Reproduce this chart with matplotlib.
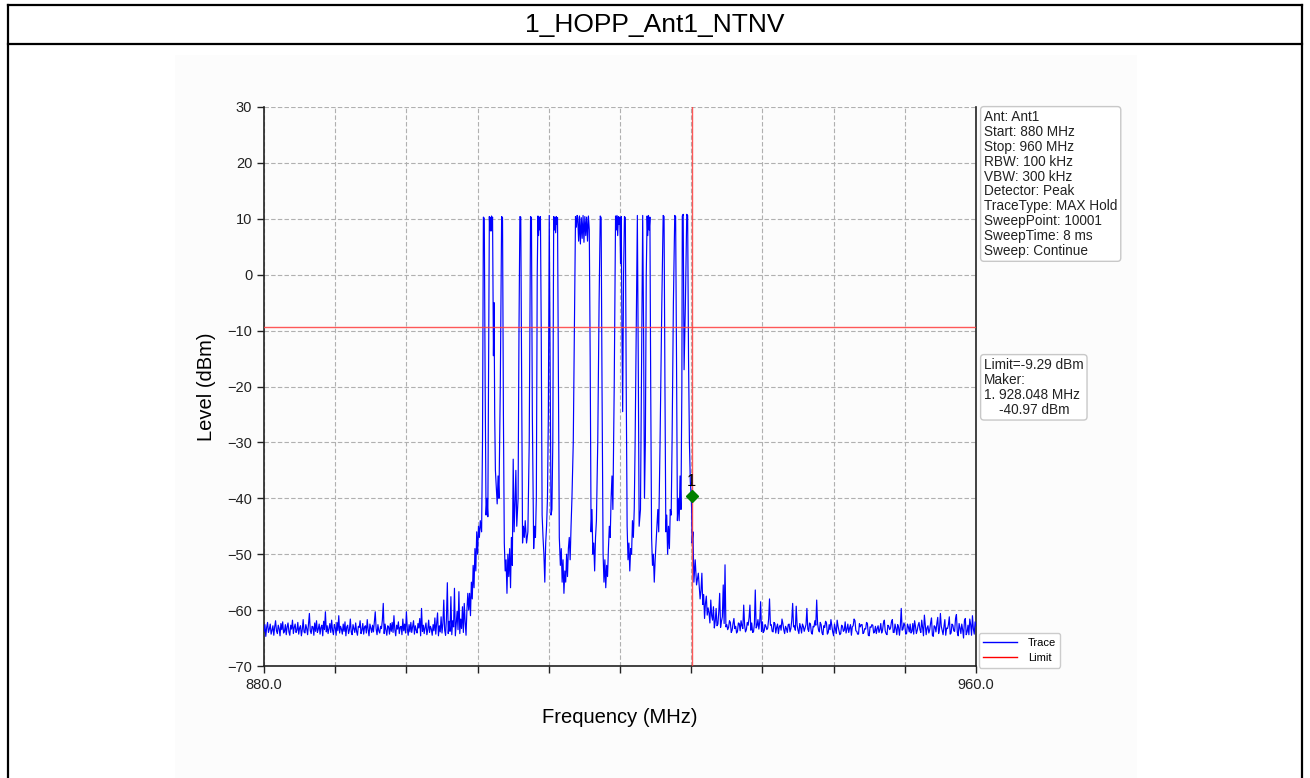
import numpy as np
import matplotlib
matplotlib.use("Agg")
import matplotlib.pyplot as plt
from matplotlib.lines import Line2D
from matplotlib.patches import Rectangle

plt.rcParams['font.family'] = ['Liberation Sans', 'DejaVu Sans']

# ---- data ----
title = "1_HOPP_Ant1_NTNV"
start_mhz, stop_mhz = 880.0, 960.0
tick_step_mhz = 8.0
level_min, level_max = -70, 30
limit_dbm = -9.29
marker_mhz = 928.048
marker_dbm = -40.97
marker_drawn_dbm = -39.6   # where the diamond sits on the picture

info_lines = ["Ant: Ant1", "Start: 880 MHz", "Stop: 960 MHz", "RBW: 100 kHz",
              "VBW: 300 kHz", "Detector: Peak", "TraceType: MAX Hold",
              "SweepPoint: 10001", "SweepTime: 8 ms", "Sweep: Continue"]

# noise floor below the hopping band, 880.0 .. 902.9 MHz every 0.1 MHz
left_start, left_step = 880.0, 0.1
left_levels = [
    -63.8, -62.6, -64.7, -63.1, -62.2, -64.0, -63.4, -62.5, -64.3, -63.6,
    -62.8, -64.5, -63.0, -61.9, -63.7, -64.2, -62.7, -63.3, -64.6, -62.4,
    -63.5, -62.1, -64.1, -63.8, -62.6, -64.4, -63.0, -62.3, -63.9, -64.5,
    -62.7, -63.4, -61.8, -64.2, -63.1, -62.5, -64.0, -63.6, -62.2, -64.3,
    -63.2, -62.8, -64.6, -63.5, -61.7, -63.9, -64.1, -62.6, -63.3, -64.4,
    -62.4, -60.6, -63.7, -64.2, -62.9, -63.0, -64.5, -62.3, -63.8, -61.9,
    -64.0, -63.4, -62.5, -64.3, -63.1, -62.7, -64.6, -62.0, -63.5, -60.3,
    -63.9, -62.8, -64.2, -63.3, -62.4, -64.0, -61.8, -63.6, -64.4, -62.6,
    -63.1, -64.5, -62.2, -63.7, -61.0, -64.1, -62.9, -63.4, -64.3, -62.5,
    -63.8, -62.1, -64.6, -63.0, -62.7, -64.2, -63.5, -61.6, -63.9, -64.4,
    -62.6, -63.3, -64.0, -62.3, -63.8, -64.5, -62.9, -63.1, -61.9, -64.2,
    -63.6, -62.4, -64.3, -63.0, -62.8, -64.1, -61.7, -63.5, -64.6, -62.5,
    -63.2, -64.0, -62.7, -63.9, -62.1, -60.3, -63.4, -64.4, -62.6, -63.7,
    -64.1, -62.9, -63.3, -61.8, -58.8, -64.2, -62.5, -63.6, -64.5, -62.8,
    -63.0, -64.3, -62.4, -63.8, -62.2, -64.0, -61.0, -63.5, -64.6, -62.7,
    -63.4, -62.1, -64.2, -63.1, -62.9, -64.4, -61.6, -63.7, -62.5, -64.1,
    -60.3, -63.3, -64.5, -62.6, -63.9, -62.2, -64.0, -63.0, -61.9, -64.3,
    -62.8, -63.6, -64.1, -62.4, -63.2, -61.5, -64.6, -59.7, -63.8, -62.7,
    -64.2, -63.1, -62.3, -64.4, -63.5, -61.8, -64.0, -62.9, -63.4, -64.5,
    -62.6, -63.7, -61.4, -64.3, -62.5, -60.5, -64.6, -62.8, -63.9, -61.2,
    -64.1, -62.4, -58.2, -63.6, -64.5, -61.5, -55.1, -64.2, -62.0, -63.8,
    -57.6, -64.4, -61.9, -63.0, -56.1, -64.6, -62.3, -60.2, -63.5, -56.7,
    -64.2, -61.6, -63.3, -59.4, -64.0, -58.8, -62.1, -64.5, -60.0, -57.0,
]

# hopping band 903 .. 928.8 MHz (freq, level)
hop_trace = [
    (903.0, -60), (903.1, -57), (903.2, -61), (903.3, -55), (903.4, -58),
    (903.5, -52), (903.6, -56), (903.7, -49), (903.8, -53), (903.9, -46),
    (904.0, -50), (904.1, -45), (904.2, -47), (904.3, -44), (904.45, -46),
    (904.55, -30), (904.65, 10.3), (904.75, 10.1), (904.85, -20), (904.95, -43),
    (905.05, -40), (905.15, -43.3), (905.25, -10), (905.32, 10.4), (905.38, 8),
    (905.44, 10.2), (905.5, 7.8), (905.56, 10.5), (905.62, 9), (905.68, 10.3),
    (905.78, -14.5), (905.85, -5), (905.92, -25), (906.0, -35), (906.1, -38),
    (906.2, -41), (906.3, -36), (906.4, -40), (906.55, -20), (906.7, 10.4),
    (906.8, 10.2), (906.9, -25), (907.0, -48), (907.1, -53), (907.2, -51),
    (907.3, -57), (907.4, -50), (907.5, -54), (907.6, -49), (907.7, -56),
    (907.8, -47), (907.9, -52), (908.0, -33), (908.1, -46), (908.2, -41),
    (908.3, -35), (908.4, -45), (908.55, -40), (908.65, -10), (908.75, 10.4),
    (908.85, 10.3), (908.95, -20), (909.05, -48), (909.15, -45), (909.25, -47),
    (909.35, -44), (909.5, -48), (909.65, -46), (909.8, -30), (909.95, 10.4),
    (910.05, 10.2), (910.15, -25), (910.3, -49), (910.4, -45), (910.5, -47),
    (910.6, -40), (910.7, 0), (910.78, 10.5), (910.85, 7), (910.92, 10.3),
    (911.0, 8), (911.06, 10.4), (911.15, -10), (911.25, -43), (911.35, -47),
    (911.45, -50), (911.55, -55), (911.65, -48), (911.75, -45), (911.85, -40),
    (911.95, -25), (912.05, 10.6), (912.15, -15), (912.25, -43), (912.35, -42),
    (912.45, -30), (912.55, 10.4), (912.62, 8), (912.7, 10.3), (912.77, 7.5),
    (912.85, 10.4), (912.92, 9), (912.98, 10.2), (913.08, -20), (913.18, -47),
    (913.3, -52), (913.4, -49), (913.5, -55), (913.6, -51), (913.7, -57),
    (913.8, -53), (913.9, -55), (914.0, -50), (914.1, -54), (914.2, -49),
    (914.3, -47), (914.4, -51), (914.5, -45), (914.6, -40), (914.75, -30),
    (914.9, -5), (915.0, 10.4), (915.1, 8.5), (915.18, 10.6), (915.25, 10.3),
    (915.35, 6), (915.45, 10.5), (915.55, 5.5), (915.65, 10.2), (915.75, 6.5),
    (915.85, 10.6), (915.95, 5.8), (916.05, 10.4), (916.15, 7), (916.25, 10.3),
    (916.35, 6), (916.45, 10.5), (916.55, 8), (916.65, -15), (916.75, -46),
    (916.85, -42), (916.95, -50), (917.05, -48), (917.15, -53), (917.25, -47),
    (917.35, -44), (917.5, -30), (917.65, -5), (917.78, 10.5), (917.88, 10.2),
    (917.98, -20), (918.1, -50), (918.2, -55), (918.3, -51), (918.4, -56),
    (918.5, -52), (918.6, -54), (918.7, -49), (918.8, -45), (918.9, -47),
    (919.0, -40), (919.1, -36), (919.2, -42), (919.35, -20), (919.5, 10.5),
    (919.58, 8), (919.66, 10.6), (919.74, 7), (919.82, 10.4), (919.9, 9),
    (919.98, 10.3), (920.06, 2), (920.14, 10.4), (920.22, -10), (920.3, -24.5),
    (920.4, 0), (920.5, 10.4), (920.6, 10.2), (920.7, -20), (920.8, -45),
    (920.9, -51), (921.0, -48), (921.1, -53), (921.2, -49), (921.3, -50),
    (921.4, -44), (921.5, -47), (921.6, -42), (921.7, -30), (921.85, -5),
    (921.95, 10.6), (922.05, -15), (922.15, -45), (922.3, -42), (922.4, -20),
    (922.55, 10.6), (922.65, -10), (922.75, -40), (922.85, -30), (922.95, 0),
    (923.05, 10.5), (923.12, 7), (923.2, 10.6), (923.28, 8), (923.36, 10.3),
    (923.45, -20), (923.55, -47), (923.65, -52), (923.75, -50), (923.85, -55),
    (923.95, -51), (924.05, -48), (924.15, -45), (924.25, -42), (924.35, -46),
    (924.5, -30), (924.7, -5), (924.85, 10.6), (924.95, 10.4), (925.05, -20),
    (925.15, -46), (925.25, -43), (925.35, -50), (925.45, -45), (925.55, -49),
    (925.65, -42), (925.75, -43), (925.85, -30), (926.0, -5), (926.15, 10.6),
    (926.25, 10.4), (926.35, -15), (926.45, -44), (926.55, -40), (926.65, -44),
    (926.75, -36), (926.85, -42), (926.95, -20), (927.0, 10.5), (927.1, 10.8),
    (927.2, -17), (927.35, -5), (927.5, 10.8), (927.6, 10.6), (927.7, -15),
    (927.8, -30), (927.9, -37), (928.0, -39.5), (928.05, -42), (928.1, -48),
    (928.2, -46), (928.3, -55), (928.45, -51), (928.6, -55.5), (928.8, -53.4),
]

# noise floor above the hopping band, 929.0 .. 960.0 MHz every 0.1 MHz
right_start, right_step = 929.0, 0.1
right_levels = [
    -58.0, -56.5, -53.4, -59.0, -57.2, -61.5, -58.8, -57.5, -60.9, -59.6,
    -60.5, -62.3, -58.2, -61.0, -61.8, -59.4, -63.2, -62.0, -59.7, -62.8,
    -62.5, -60.3, -57.0, -63.1, -62.0, -61.2, -55.5, -62.4, -51.9, -63.0,
    -62.6, -63.5, -63.1, -61.9, -62.2, -64.0, -63.6, -62.4, -61.5, -63.3,
    -62.9, -64.1, -63.8, -62.3, -62.4, -63.7, -61.9, -62.8, -63.3, -59.1,
    -62.7, -63.9, -63.5, -62.2, -62.7, -61.4, -59.1, -63.6, -62.3, -64.0,
    -63.9, -62.5, -56.4, -63.2, -62.8, -61.7, -63.4, -62.1, -58.5, -63.8,
    -62.1, -64.0, -63.7, -62.6, -62.9, -63.5, -63.2, -61.6, -58.0, -62.7,
    -62.6, -63.8, -63.9, -62.2, -62.4, -64.1, -63.1, -62.5, -64.2, -63.0,
    -62.7, -63.6, -61.6, -62.4, -63.5, -64.2, -62.9, -63.3, -64.0, -62.6,
    -62.5, -63.9, -63.3, -61.8, -58.8, -63.0, -62.8, -63.6, -59.3, -62.7,
    -63.6, -64.2, -62.4, -63.1, -64.1, -62.5, -62.9, -63.8, -63.2, -62.6,
    -59.7, -63.4, -63.8, -62.3, -62.5, -64.0, -64.3, -62.9, -63.0, -61.9,
    -62.7, -58.2, -62.4, -63.5, -63.9, -62.2, -62.6, -64.1, -64.4, -62.8,
    -63.1, -62.0, -62.3, -64.3, -64.0, -62.6, -63.5, -61.7, -62.8, -63.9,
    -64.6, -62.5, -63.3, -64.2, -61.8, -62.9, -63.7, -64.4, -64.2, -62.7,
    -62.9, -63.8, -63.6, -62.1, -64.1, -63.4, -62.5, -64.0, -63.2, -62.6,
    -64.5, -63.0, -62.8, -61.6, -61.9, -63.7, -63.8, -64.3, -64.3, -62.4,
    -63.0, -62.6, -62.6, -64.2, -64.0, -63.3, -63.4, -62.2, -62.4, -64.5,
    -64.6, -63.0, -63.1, -62.6, -62.7, -64.1, -63.9, -62.9, -64.2, -63.3,
    -62.8, -64.0, -63.5, -62.4, -64.1, -63.6, -62.3, -61.8, -63.7, -64.2,
    -64.4, -62.7, -62.9, -63.5, -63.2, -62.1, -61.7, -64.0, -64.0, -62.5,
    -63.3, -64.4, -62.6, -63.1, -64.5, -62.8, -59.7, -63.6, -63.4, -62.3,
    -62.7, -64.3, -64.2, -62.5, -63.0, -63.9, -62.5, -64.1, -63.8, -62.4,
    -64.3, -61.9, -62.9, -64.2, -63.6, -62.7, -62.2, -63.5, -64.0, -61.8,
    -63.1, -64.6, -60.9, -62.7, -64.4, -63.2, -62.8, -64.1, -63.5, -62.3,
    -61.4, -64.5, -64.7, -62.8, -63.0, -63.9, -62.4, -61.3, -64.2, -63.4,
    -60.6, -62.9, -63.7, -64.4, -62.9, -61.7, -64.5, -63.2, -63.3, -62.6,
    -61.2, -64.3, -64.1, -62.5, -62.7, -63.7, -63.8, -61.5, -60.8, -64.0,
    -64.6, -62.4, -63.2, -64.2, -62.5, -63.5, -65.0, -61.9, -61.5, -64.4,
    -63.9, -62.7, -64.4, -61.6, -62.6, -64.5, -61.0, -63.3, -64.3, -62.1,
    -62.8,
]

# ---- assemble trace ----
left_freq = left_start + left_step * np.arange(len(left_levels))
right_freq = right_start + right_step * np.arange(len(right_levels))
hop_freq = [f for f, _ in hop_trace]
hop_level = [l for _, l in hop_trace]
freq = np.concatenate([left_freq, hop_freq, right_freq])
level = np.concatenate([left_levels, hop_level, right_levels])

# ---- figure ----
W, H = 1310, 778
fig = plt.figure(figsize=(W / 100, H / 100), dpi=100)
fig.patch.set_facecolor("white")


def fx(x):
    return x / W


def fy(y):
    return 1 - y / H


# report frame
for x0, y0, x1, y1 in [(8, 5, 1302, 5), (8, 44, 1302, 44), (8, 5, 8, 778), (1302, 5, 1302, 778)]:
    fig.add_artist(Line2D([fx(x0), fx(x1)], [fy(y0), fy(y1)], color="black", lw=1.6))
fig.text(0.5, fy(25), title, ha="center", va="center", fontsize=19)

# chart image background
fig.add_artist(Rectangle((fx(175), 0), fx(1137) - fx(175), fy(55), facecolor="#fcfcfc",
                         edgecolor="none", zorder=0))

ax = fig.add_axes([fx(264), fy(666), fx(976) - fx(264), fy(107) - fy(666)])
ax.set_facecolor("none")

ax.plot(freq, level, color="blue", lw=0.85, zorder=3)
ax.axhline(limit_dbm, color="#ff3b3b", lw=1.0, alpha=0.85, zorder=4)
ax.axvline(marker_mhz, color="#ff3b3b", lw=1.0, alpha=0.85, zorder=4)
ax.plot([marker_mhz], [marker_drawn_dbm], marker="D", color="green", ms=6, zorder=5)
ax.text(marker_mhz, marker_drawn_dbm + 1.3, "1", ha="center", va="bottom", fontsize=12,
        color="black", zorder=6)

ax.set_xlim(start_mhz, stop_mhz)
ax.set_ylim(level_min, level_max)
xticks = np.arange(start_mhz, stop_mhz + 0.1, tick_step_mhz)
ax.set_xticks(xticks)
ax.set_xticklabels([f"{t:.1f}" if t in (start_mhz, stop_mhz) else "" for t in xticks])
ax.set_yticks(np.arange(level_min, level_max + 1, 10))
ax.tick_params(labelsize=10.5, length=5, width=1, colors="#222222")
ax.grid(True, color="#b0b0b0", ls=(0, (4, 2)), lw=0.8)
ax.spines["top"].set_visible(False)
for s in ("left", "bottom", "right"):
    ax.spines[s].set_linewidth(1.2)
    ax.spines[s].set_color("#222222")

ax.set_xlabel("Frequency (MHz)", fontsize=14.5, labelpad=12)
ax.set_ylabel("Level (dBm)", fontsize=14.5, labelpad=8)

handles = [Line2D([], [], color="blue", lw=1), Line2D([], [], color="red", lw=1)]
leg = ax.legend(handles, ["Trace", "Limit"], loc="lower left", bbox_to_anchor=(1.004, -0.003),
                fontsize=8, handlelength=3.0, handletextpad=1.0, framealpha=1,
                edgecolor="#cccccc", borderaxespad=0.0, fancybox=True)

box = dict(boxstyle="round,pad=0.25", fc="white", ec="#c8c8c8", lw=1)
fig.text(fx(984), fy(110), "\n".join(info_lines), ha="left", va="top", fontsize=9.8,
         linespacing=1.08, bbox=box, color="#222222")
limit_text = (f"Limit={limit_dbm:.2f} dBm\nMaker:\n1. {marker_mhz:.3f} MHz\n"
              f"    {marker_dbm:.2f} dBm")
fig.text(fx(984), fy(358), limit_text, ha="left", va="top", fontsize=9.8,
         linespacing=1.08, bbox=box, color="#222222")

fig.savefig("out.png", dpi=100)
